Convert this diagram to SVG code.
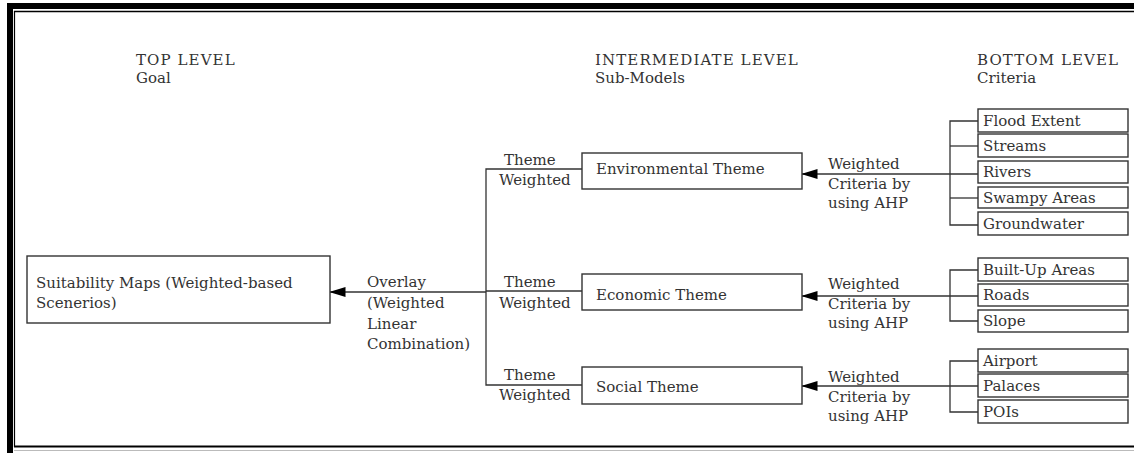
<svg xmlns="http://www.w3.org/2000/svg" width="1134" height="453" viewBox="0 0 1134 453">
<style>
text{font-family:"DejaVu Serif","Liberation Serif",serif;font-size:15px;fill:#333}
.hd{letter-spacing:1.1px}
.box{fill:#fff;stroke:#333;stroke-width:1.4}
.ln{fill:none;stroke:#333;stroke-width:1.3}
</style>
<defs>
<marker id="ah" viewBox="0 0 16 10" refX="0.5" refY="5" markerWidth="16" markerHeight="10" markerUnits="userSpaceOnUse" orient="auto">
<path d="M0,5 L16,0 L16,10 Z" fill="#000"/>
</marker>
</defs>
<rect width="1134" height="453" fill="#fff"/>
<g id="frame">
<rect x="7" y="3" width="1127" height="6" fill="#000"/>
<rect x="7" y="3" width="6" height="450" fill="#000"/>
<line x1="14" y1="11.5" x2="1134" y2="11.5" stroke="#000" stroke-width="1.5"/>
<line x1="14.5" y1="11" x2="14.5" y2="447" stroke="#000" stroke-width="1.2"/>
<line x1="14" y1="446.5" x2="1134" y2="446.5" stroke="#000" stroke-width="1.8"/>
<line x1="14" y1="450.5" x2="1134" y2="450.5" stroke="#bbb" stroke-width="1"/>
</g>
<g id="headers">
<text class="hd" x="136" y="65">TOP LEVEL</text>
<text x="136" y="83">Goal</text>
<text class="hd" x="595" y="65">INTERMEDIATE LEVEL</text>
<text x="595" y="83">Sub-Models</text>
<text class="hd" x="977" y="65">BOTTOM LEVEL</text>
<text x="977" y="83">Criteria</text>
</g>
<g id="connectors">
<line class="ln" x1="330" y1="292" x2="486" y2="292" marker-start="url(#ah)"/>
<polyline class="ln" points="582,169 486,169 486,385 582,385"/>
<line class="ln" x1="486" y1="291" x2="582" y2="291"/>
<line class="ln" x1="802" y1="174" x2="978" y2="174" marker-start="url(#ah)"/>
<line class="ln" x1="802" y1="296" x2="978" y2="296" marker-start="url(#ah)"/>
<line class="ln" x1="802" y1="386" x2="978" y2="386" marker-start="url(#ah)"/>
<polyline class="ln" points="978,121 950,121 950,225 978,225"/>
<line class="ln" x1="950" y1="146" x2="978" y2="146"/>
<line class="ln" x1="950" y1="198" x2="978" y2="198"/>
<polyline class="ln" points="978,270 950,270 950,321 978,321"/>
<polyline class="ln" points="978,361 950,361 950,412 978,412"/>
</g>
<g id="edge-labels">
<text x="367" y="287">Overlay</text>
<text x="367" y="308">(Weighted</text>
<text x="367" y="329">Linear</text>
<text x="367" y="349">Combination)</text>
<text x="504" y="165">Theme</text>
<text x="499" y="185">Weighted</text>
<text x="504" y="287">Theme</text>
<text x="499" y="308">Weighted</text>
<text x="504" y="380">Theme</text>
<text x="499" y="400">Weighted</text>
<text x="828" y="169">Weighted</text>
<text x="828" y="189">Criteria by</text>
<text x="828" y="208">using AHP</text>
<text x="828" y="289">Weighted</text>
<text x="828" y="309">Criteria by</text>
<text x="828" y="328">using AHP</text>
<text x="828" y="382">Weighted</text>
<text x="828" y="402">Criteria by</text>
<text x="828" y="421">using AHP</text>
</g>
<g id="goal">
<rect class="box" x="27" y="256" width="303" height="67"/>
<text x="36" y="288">Suitability Maps (Weighted-based</text>
<text x="36" y="308">Scenerios)</text>
</g>
<g id="env-theme">
<rect class="box" x="582" y="153" width="220" height="36"/>
<text x="596" y="174">Environmental Theme</text>
</g>
<g id="eco-theme">
<rect class="box" x="582" y="274" width="220" height="36"/>
<text x="596" y="300">Economic Theme</text>
</g>
<g id="soc-theme">
<rect class="box" x="582" y="367" width="220" height="37"/>
<text x="596" y="392">Social Theme</text>
</g>
<g id="flood"><rect class="box" x="978" y="109" width="150" height="23"/><text x="983" y="126">Flood Extent</text></g>
<g id="streams"><rect class="box" x="978" y="134" width="150" height="23"/><text x="983" y="151">Streams</text></g>
<g id="rivers"><rect class="box" x="978" y="161" width="150" height="22"/><text x="983" y="177">Rivers</text></g>
<g id="swampy"><rect class="box" x="978" y="187" width="150" height="21"/><text x="983" y="203">Swampy Areas</text></g>
<g id="groundwater"><rect class="box" x="978" y="212" width="150" height="23"/><text x="983" y="229">Groundwater</text></g>
<g id="builtup"><rect class="box" x="978" y="258" width="150" height="23"/><text x="983" y="275">Built-Up Areas</text></g>
<g id="roads"><rect class="box" x="978" y="284" width="150" height="22"/><text x="983" y="300">Roads</text></g>
<g id="slope"><rect class="box" x="978" y="310" width="150" height="22"/><text x="983" y="326">Slope</text></g>
<g id="airport"><rect class="box" x="978" y="349" width="150" height="23"/><text x="983" y="366">Airport</text></g>
<g id="palaces"><rect class="box" x="978" y="374" width="150" height="23"/><text x="983" y="391">Palaces</text></g>
<g id="pois"><rect class="box" x="978" y="400" width="150" height="23"/><text x="983" y="417">POIs</text></g>
</svg>
